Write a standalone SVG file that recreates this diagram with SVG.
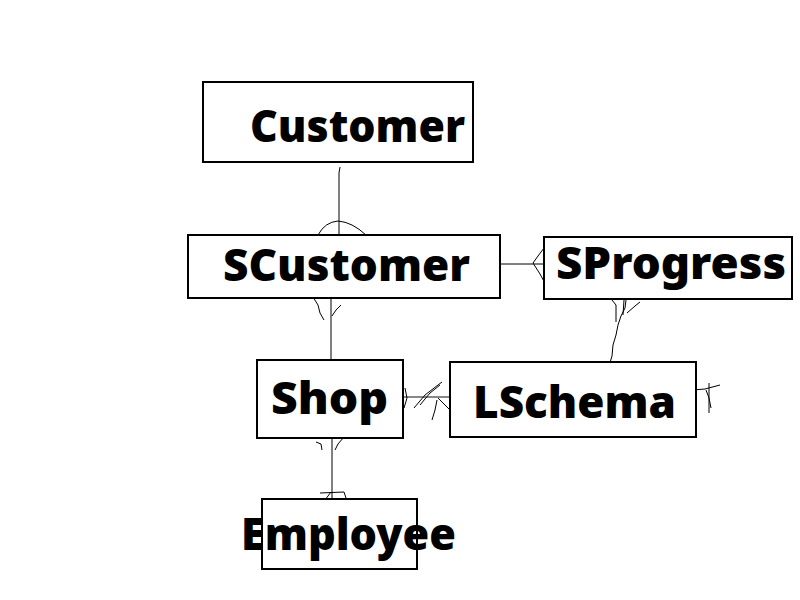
<svg xmlns="http://www.w3.org/2000/svg" width="800" height="600" viewBox="0 0 800 600">
<style>
.box{fill:#fff;stroke:#000;stroke-width:2}
.t{font-family:"Noto Sans","DejaVu Sans",sans-serif;font-weight:900;font-size:45px;fill:#000}
.c{fill:none;stroke:#000;stroke-width:1}
</style>
<rect width="800" height="600" fill="#fff"/>
<g id="connectors">
<path class="c" d="M340,167 L339,173 L339,235"/>
<path class="c" d="M318,235 Q325,222 338,221 Q352,222 366,235"/>
<path class="c" d="M500,264 L544,264"/>
<path class="c" d="M544,248 L538,256 L533,263 L540,274 L546,285"/>
<path class="c" d="M331,298 L331,360"/>
<path class="c" d="M313,297 L318,305 L320,313 L324,320"/>
<path class="c" d="M332,316 L336,310 L341,305"/>
<path class="c" d="M609,366 L612,356 L613,345 L616,335 L618,325 L621,316 L625,308 L626,300"/>
<path class="c" d="M612,300 L616,305 L616,322"/>
<path class="c" d="M624,300 L623,315"/>
<path class="c" d="M627,313 L635,306 L640,302"/>
<path d="M403,397 L450,397" fill="none" stroke="#888" stroke-width="2"/>
<path class="c" d="M405,388 L407,398 L404,408"/>
<path class="c" d="M414,408 L425,395 L438,385 L442,382"/>
<path class="c" d="M420,405 L430,393 L440,385"/>
<path class="c" d="M437,400 L435,410 L432,420"/>
<path class="c" d="M438,398 L450,410 L461,424"/>
<path class="c" d="M709,383 L709,413"/>
<path class="c" d="M692,390 L705,389 L720,385"/>
<path class="c" d="M706,390 L709,398 L711,408"/>
<path class="c" d="M332,438 L332,502"/>
<path class="c" d="M316,442 L321,444 L322,450"/>
<path class="c" d="M335,450 L338,444 L344,437"/>
<path class="c" d="M320,493 L344,492 L346,498"/>
<path class="c" d="M331,492 L325,500 L320,508"/>
</g>
<g id="Customer"><rect class="box" x="203" y="82" width="270" height="80"/><text class="t" x="250" y="142" textLength="215" lengthAdjust="spacingAndGlyphs">Customer</text></g>
<g id="SCustomer"><rect class="box" x="188" y="235" width="312" height="63"/><text class="t" x="223" y="281" textLength="247" lengthAdjust="spacingAndGlyphs">SCustomer</text></g>
<g id="SProgress"><rect class="box" x="544" y="237" width="248" height="62"/><text class="t" x="556" y="279" textLength="230" lengthAdjust="spacingAndGlyphs">SProgress</text></g>
<g id="Shop"><rect class="box" x="257" y="360" width="146" height="78"/><text class="t" x="271" y="414" textLength="117" lengthAdjust="spacingAndGlyphs">Shop</text></g>
<g id="LSchema"><rect class="box" x="450" y="362" width="246" height="75"/><text class="t" x="473" y="418" textLength="203" lengthAdjust="spacingAndGlyphs">LSchema</text></g>
<g id="Employee"><rect class="box" x="262" y="499" width="155" height="70"/><text class="t" x="241" y="550" textLength="215" lengthAdjust="spacingAndGlyphs">Employee</text></g>
</svg>
